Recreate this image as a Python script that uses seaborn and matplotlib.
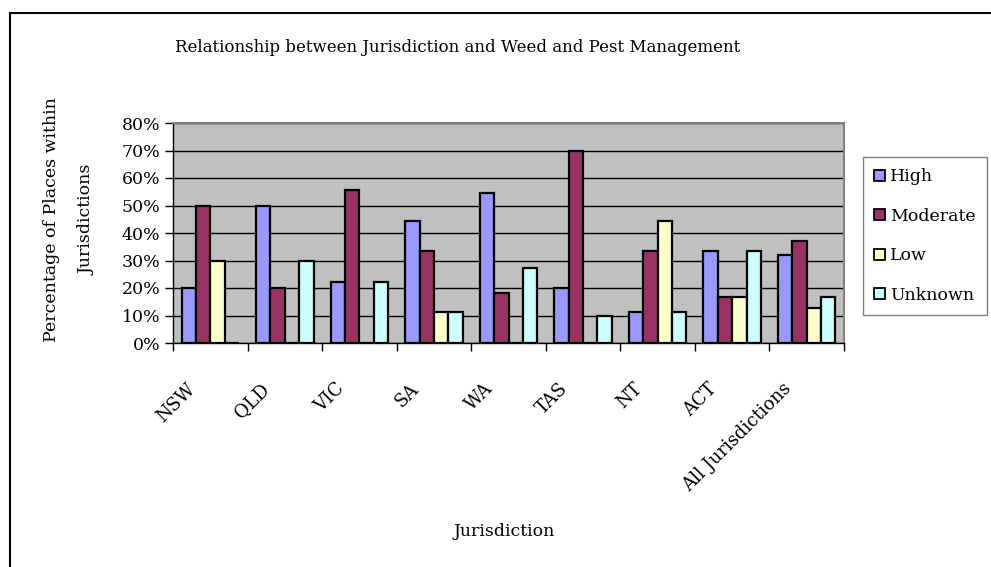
import matplotlib
matplotlib.use("Agg")
import matplotlib.pyplot as plt
import seaborn as sns
import pandas as pd
from matplotlib.patches import Rectangle, Patch
from matplotlib.transforms import ScaledTranslation
from matplotlib.ticker import FixedLocator

# Share of places (%) in each weed and pest management category
jurisdictions = ["NSW", "QLD", "VIC", "SA", "WA", "TAS", "NT", "ACT", "All Jurisdictions"]
levels = ["High", "Moderate", "Low", "Unknown"]
high = [20.0, 50.0, 22.2, 44.4, 54.5, 20.0, 11.1, 33.3, 32.0]
moderate = [50.0, 20.0, 55.6, 33.3, 18.2, 70.0, 33.3, 16.7, 37.1]
low = [30.0, 0.0, 0.0, 11.1, 0.0, 0.0, 44.4, 16.7, 12.8]
unknown = [0.0, 30.0, 22.2, 11.1, 27.3, 10.0, 11.1, 33.3, 16.6]
y_ticks = [0, 10, 20, 30, 40, 50, 60, 70, 80]
colors = ["#9999FF", "#993366", "#FFFFCC", "#CCFFFF"]

df = pd.DataFrame({
    "Jurisdiction": jurisdictions * 4,
    "Level": [lv for lv in levels for _ in jurisdictions],
    "Percent": high + moderate + low + unknown,
})

sns.set_theme(style="white")
plt.rcParams["font.family"] = ["DejaVu Serif"]
for key in ["text.color", "axes.labelcolor", "xtick.color", "ytick.color"]:
    plt.rcParams[key] = "black"
FS = 12.5

W, H = 991, 567
fig = plt.figure(figsize=(W / 100, H / 100), dpi=100)
fig.patch.set_facecolor("white")

left, right, top, bottom = 173, 844, 123, 343
ax = fig.add_axes([left / W, 1 - bottom / H, (right - left) / W, (bottom - top) / H])
ax.set_facecolor("#C0C0C0")

sns.barplot(data=df, x="Jurisdiction", y="Percent", hue="Level",
            hue_order=levels, order=jurisdictions, palette=colors,
            width=0.77, edgecolor="black", linewidth=1.6, saturation=1,
            errorbar=None, legend=False, ax=ax, zorder=3)

ax.set_xlim(-0.5, len(jurisdictions) - 0.5)
ax.set_ylim(0, 80)
ax.yaxis.set_major_locator(FixedLocator(y_ticks))
ax.set_yticklabels([f"{v}%" for v in y_ticks], fontsize=FS)
ax.yaxis.grid(True, color="black", linewidth=1.0, zorder=1)
ax.set_axisbelow(True)
ax.set_xlabel("")
ax.set_ylabel("")

# category boundary ticks on the x axis, labels at category centres
ax.xaxis.set_minor_locator(FixedLocator([i - 0.5 for i in range(len(jurisdictions) + 1)]))
ax.tick_params(axis="x", which="minor", length=6, width=1, color="black", direction="out", bottom=True)
ax.tick_params(axis="x", which="major", length=0, pad=31)
ax.tick_params(axis="y", which="major", length=6, width=1, color="black", direction="out", left=True, pad=3)
ax.set_xticks(range(len(jurisdictions)))
ax.set_xticklabels(jurisdictions, rotation=45, ha="right", va="center",
                   rotation_mode="anchor", fontsize=13)
shift = ScaledTranslation(-0.18, 0, fig.dpi_scale_trans)
for lbl in ax.get_xticklabels():
    lbl.set_transform(lbl.get_transform() + shift)

for side in ["left", "bottom"]:
    ax.spines[side].set_color("black")
    ax.spines[side].set_linewidth(1.0)
for side in ["top", "right"]:
    ax.spines[side].set_color("#808080")
    ax.spines[side].set_linewidth(1.5)

# chart titles
fig.text(458 / W, 1 - 47 / H, "Relationship between Jurisdiction and Weed and Pest Management",
         ha="center", va="center", fontsize=12)
fig.text(52 / W, 1 - 220 / H, "Percentage of Places within", rotation=90,
         ha="center", va="center", fontsize=FS)
fig.text(87 / W, 1 - 220 / H, "Jurisdictions", rotation=90,
         ha="center", va="center", fontsize=FS)
fig.text(504 / W, 1 - 532 / H, "Jurisdiction", ha="center", va="center", fontsize=FS)

# legend
handles = [Patch(facecolor=c, edgecolor="black", linewidth=1.3) for c in colors]
leg = fig.legend(handles, levels, loc="upper left",
                 bbox_to_anchor=(863 / W, 1 - 157 / H), frameon=True,
                 fancybox=False, edgecolor="#606060", fontsize=FS,
                 handlelength=0.6, handleheight=0.6, handletextpad=0.3,
                 labelspacing=1.3, borderpad=0.65, borderaxespad=0)
leg.get_frame().set_linewidth(1.0)

# outer chart border
fig.patches.append(Rectangle((10 / W, -0.1), 1.2, 1 - 13 / H + 0.1,
                             transform=fig.transFigure, fill=False,
                             edgecolor="black", linewidth=1.5))

fig.savefig("out.png", dpi=100)
